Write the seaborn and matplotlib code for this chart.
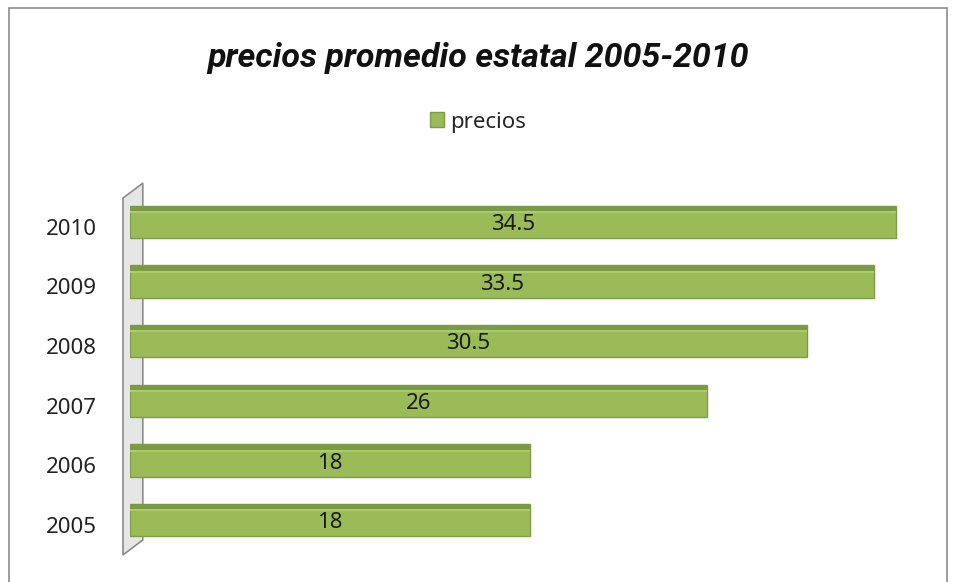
import matplotlib
matplotlib.use('Agg')
import matplotlib.pyplot as plt
import matplotlib.transforms as mtransforms
from matplotlib.patches import Rectangle, Polygon
import pandas as pd
import seaborn as sns

# data
years = ['2010', '2009', '2008', '2007', '2006', '2005']
precios = [34.5, 33.5, 30.5, 26, 18, 18]

df = pd.DataFrame({'year': years, 'precios': precios})

sns.set_theme(style='white')
plt.rcParams['font.family'] = ['Noto Sans', 'DejaVu Sans']

fig = plt.figure(figsize=(9.56, 5.82), dpi=100)
ax = fig.add_axes([0.136, 0.055, 0.836, 0.615])

bar_green = '#9BBB59'
sns.barplot(data=df, y='year', x='precios', orient='h', color=bar_green,
            width=0.54, saturation=1, edgecolor='#7E9B47', linewidth=1.0,
            ax=ax, label='precios', zorder=2)

for p, v in zip(ax.patches, precios):
    # darker top strip + lighter line to mimic the 3D look
    ax.add_patch(Rectangle((p.get_x(), p.get_y()), p.get_width(), p.get_height() * 0.16,
                           facecolor='#7A9A45', edgecolor='none', zorder=3))
    ax.add_patch(Rectangle((p.get_x(), p.get_y() + p.get_height() * 0.16), p.get_width(),
                           p.get_height() * 0.07, facecolor='#ACCB6A', edgecolor='none', zorder=3))
    ax.text(p.get_x() + p.get_width() / 2, p.get_y() + p.get_height() * 0.58,
            f'{v:g}', ha='center', va='center', fontsize=16, color='#1a1a1a', zorder=4)

ax.set_xlim(0, 36)
ax.set_xlabel('')
ax.set_ylabel('')
ax.set_xticks([])
ax.tick_params(axis='y', labelsize=16, colors='#222222', length=0, pad=24)
# labels sit slightly below the bar centres in the original
shift = mtransforms.ScaledTranslation(0, -3.5 / 72, fig.dpi_scale_trans)
for lbl in ax.get_yticklabels():
    lbl.set_transform(lbl.get_transform() + shift)
for s in ['top', 'right', 'bottom', 'left']:
    ax.spines[s].set_visible(False)

# grey back wall on the left
ax.add_patch(Polygon([(-0.0088, -0.014), (0.016, 0.028), (0.016, 1.025), (-0.0088, 0.983)],
                     closed=True, transform=ax.transAxes, facecolor='#E6E6E6',
                     edgecolor='#8C8C8C', linewidth=1.2, clip_on=False, zorder=0))

fig.text(0.5, 0.9, 'precios promedio estatal 2005-2010', ha='center', va='center',
         fontsize=24.5, fontweight='bold', fontstyle='italic', color='#111111',
         family=['Roboto', 'DejaVu Sans'])

handles, labels = ax.get_legend_handles_labels()
ax.legend(handles[:1], labels[:1], loc='center', bbox_to_anchor=(0.5, 0.79),
          bbox_transform=fig.transFigure, frameon=False, fontsize=16,
          handlelength=0.65, handleheight=0.65, handletextpad=0.3)

fig.patches.append(Rectangle((0.009, -0.01), 0.982, 0.997, transform=fig.transFigure,
                             fill=False, edgecolor='#8C8C8C', linewidth=1.2))

fig.savefig('out.png', dpi=100)
